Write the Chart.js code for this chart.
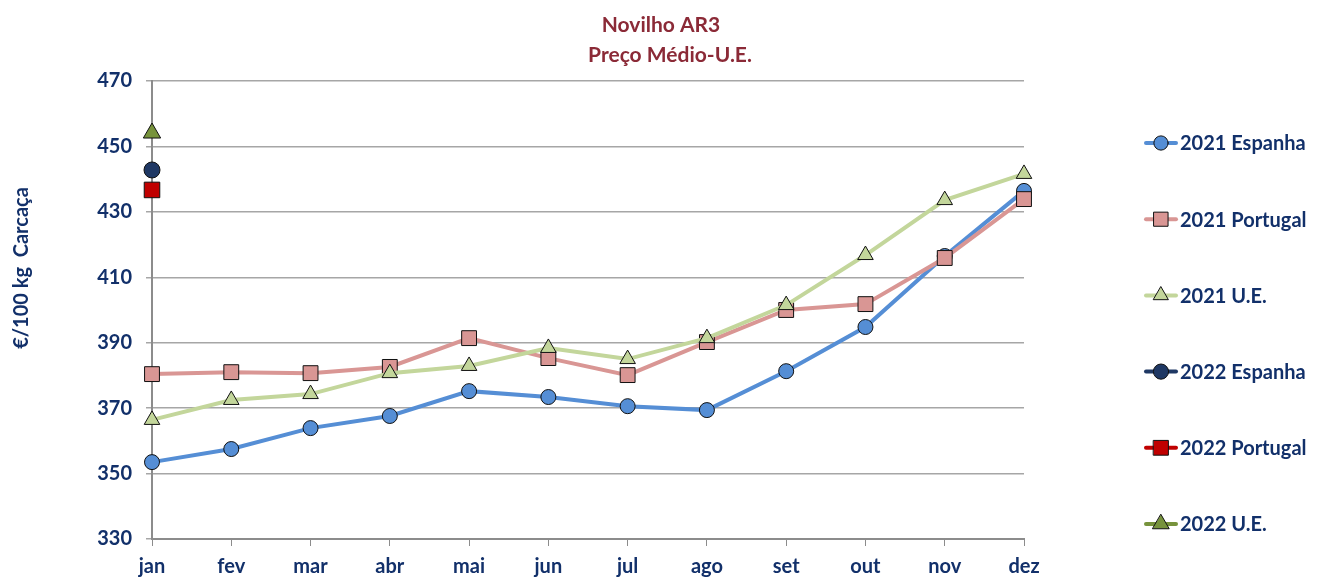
<!DOCTYPE html>
<html lang="pt">
<head>
  <meta charset="UTF-8">
  <title>Novilho AR3 - Preço Médio-U.E.</title>
  <style>
    html, body { margin: 0; padding: 0; background: #ffffff; }
    #wrap { width: 1324px; height: 578px; position: relative; }
  </style>
</head>
<body>
  <div id="wrap"><canvas id="grafico" width="1324" height="578"></canvas></div>

  <script src="https://cdn.jsdelivr.net/npm/chart.js"></script>
  <script>
    // meses
    const meses = ['jan', 'fev', 'mar', 'abr', 'mai', 'jun', 'jul', 'ago', 'set', 'out', 'nov', 'dez'];

    // preços 2021 (€/100 kg carcaça)
    const espanha2021 = [353.5, 357.5, 363.9, 367.6, 375.2, 373.4, 370.6, 369.4, 381.3, 394.8, 416.5, 436.4];
    const portugal2021 = [380.4, 381.0, 380.7, 382.6, 391.4, 385.3, 380.1, 390.2, 400.0, 401.8, 415.9, 433.9];
    const ue2021 = [366.4, 372.5, 374.3, 380.7, 382.9, 388.4, 385.0, 391.4, 401.5, 416.8, 433.6, 441.6];

    // 2022 - só janeiro
    const espanha2022 = [442.8];
    const portugal2022 = [436.7];
    const ue2022 = [454.1];

    // eixo y
    const yMin = 330, yMax = 470, yPasso = 20;

    const navy = '#12306A';
    const fonte = 'Lato, "DejaVu Sans", sans-serif';

    const series = [
      { label: '2021 Espanha', data: espanha2021, cor: '#558ED5', ponto: 'circle', r: 7.5, ordem: 3 },
      { label: '2021 Portugal', data: portugal2021, cor: '#D99694', ponto: 'rect', r: 10.5, ordem: 2 },
      { label: '2021 U.E.', data: ue2021, cor: '#C3D69B', ponto: 'triangle', r: 9, ordem: 1 },
      { label: '2022 Espanha', data: espanha2022, cor: '#1F3864', ponto: 'circle', r: 8, ordem: 0 },
      { label: '2022 Portugal', data: portugal2022, cor: '#C00000', ponto: 'rect', r: 11, ordem: 0 },
      { label: '2022 U.E.', data: ue2022, cor: '#77933C', ponto: 'triangle', r: 10, ordem: 0 }
    ];

    // título, eixo y e legenda desenhados à mão
    const extras = {
      id: 'extras',
      afterDraw(chart) {
        const ctx = chart.ctx;
        ctx.save();
        ctx.textAlign = 'center';
        ctx.textBaseline = 'alphabetic';
        ctx.fillStyle = '#8B2A37';
        ctx.font = 'bold 21px ' + fonte;
        ctx.fillText('Novilho AR3', 661, 32);
        ctx.fillText('Preço Médio-U.E.', 670, 62);

        ctx.translate(22, 268);
        ctx.rotate(-Math.PI / 2);
        ctx.fillStyle = navy;
        ctx.font = 'bold 20px ' + fonte;
        ctx.textBaseline = 'middle';
        ctx.fillText('€/100 kg  Carcaça', 0, 0);
        ctx.restore();

        // legenda
        ctx.save();
        series.forEach(function(s, i) {
          const y = 143 + i * 76.2;
          ctx.strokeStyle = s.cor;
          ctx.lineWidth = 4;
          ctx.lineCap = 'round';
          ctx.beginPath();
          ctx.moveTo(1146, y);
          ctx.lineTo(1176, y);
          ctx.stroke();
          ctx.fillStyle = s.cor;
          ctx.strokeStyle = '#111';
          ctx.lineWidth = 1;
          Chart.helpers.drawPoint(ctx, { pointStyle: s.ponto, radius: s.r * 0.95, rotation: 0, borderWidth: 1 }, 1161, y);
          ctx.fillStyle = navy;
          ctx.font = 'bold 20px ' + fonte;
          ctx.textAlign = 'left';
          ctx.textBaseline = 'middle';
          ctx.fillText(s.label, 1180, y + 1);
        });
        ctx.restore();
      }
    };

    const grafico = new Chart(document.getElementById('grafico'), {
      type: 'line',
      data: {
        labels: meses,
        datasets: series.map(function(s) {
          return {
            label: s.label,
            data: s.data,
            borderColor: s.cor,
            backgroundColor: s.cor,
            borderWidth: 4,
            pointStyle: s.ponto,
            pointRadius: s.r,
            pointHoverRadius: s.r,
            pointBackgroundColor: s.cor,
            pointBorderColor: '#111',
            pointBorderWidth: 1,
            order: s.ordem,
            tension: 0,
            fill: false
          };
        })
      },
      options: {
        responsive: false,
        animation: false,
        layout: { padding: { left: 0, right: 300, top: 81, bottom: 0 } },
        plugins: {
          legend: { display: false },
          title: { display: false },
          tooltip: { enabled: false }
        },
        scales: {
          x: {
            offset: false,
            grid: { drawOnChartArea: false, drawTicks: true, tickLength: 7, color: '#8c8c8c' },
            border: { color: '#8c8c8c', width: 2 },
            ticks: { color: navy, font: { family: fonte, size: 20, weight: 'bold' }, padding: 9, maxRotation: 0 },
            afterFit(scale) { scale.height = 39; }
          },
          y: {
            min: yMin,
            max: yMax,
            grid: { color: '#a6a6a6', lineWidth: 1.5, tickLength: 6 },
            border: { color: '#8c8c8c', width: 2 },
            ticks: { stepSize: yPasso, color: navy, font: { family: fonte, size: 20, weight: 'bold' }, padding: 14 },
            afterFit(scale) { scale.width = 152; }
          }
        }
      },
      plugins: [extras]
    });
  </script>
</body>
</html>
